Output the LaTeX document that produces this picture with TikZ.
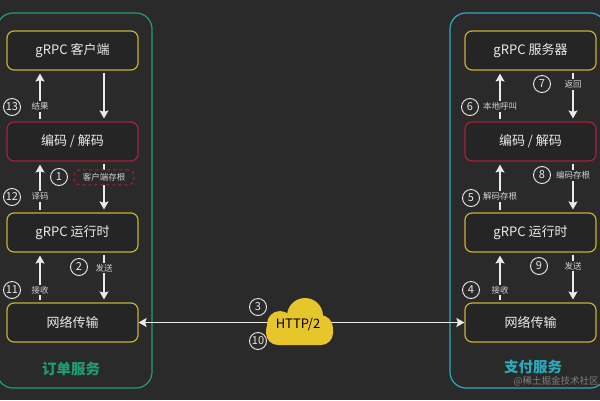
\documentclass[tikz,border=0pt]{standalone}
\usepackage{fontspec}
\setmainfont{Noto Sans CJK SC}
\usepackage{tikz}
\usetikzlibrary{arrows,arrows.meta}
\definecolor{bgdark}{HTML}{2A2A2A}
\definecolor{boxfill}{HTML}{252525}
\definecolor{boxyellow}{HTML}{C9B02E}
\definecolor{codecred}{HTML}{A8213B}
\definecolor{leftgreen}{HTML}{1F9E74}
\definecolor{rightcyan}{HTML}{2AAABD}
\definecolor{cloudyellow}{HTML}{E6C62A}
\definecolor{textwhite}{HTML}{EAEAEA}
\definecolor{labelgray}{HTML}{D2D2D2}
\tikzset{
  box/.style = {draw=boxyellow, fill=boxfill, rounded corners=7pt,
    line width=1.2pt, minimum width=131pt, minimum height=39pt, inner sep=0pt,
    text=textwhite, font=\fontsize{13}{15}\selectfont},
  codec/.style = {box, draw=codecred},% boite rouge
  num/.style = {circle, draw=textwhite, line width=0.9pt, minimum size=17pt,
    inner sep=0pt, text=textwhite, font=\fontsize{11}{12}\selectfont},
  lbl/.style = {fill=bgdark, inner sep=1.5pt, text=labelgray,
    font=\fontsize{8.5}{10}\selectfont},
  stub/.style = {lbl, draw=codecred, dashed, rounded corners=6pt,
    line width=1pt, minimum width=60pt, minimum height=15pt},
  flow/.style = {->, draw=textwhite, line width=1.3pt, shorten >=3pt,
    shorten <=2pt}
}
\begin{document}
\begin{tikzpicture}[x=1pt,y=-1pt,>={Stealth[length=8pt,width=9pt,inset=1.5pt]}]
\fill[bgdark] (0,0) rectangle (600,400);
\useasboundingbox (0,0) rectangle (600,400);
% les deux services
\draw[leftgreen, line width=1.2pt, rounded corners=16pt] (-3,13) rectangle (152,388);
\draw[rightcyan, line width=1.2pt, rounded corners=16pt] (450,13) rectangle (606,388);
\node[font=\bfseries\fontsize{14.5}{16}\selectfont, text=leftgreen] (ltitle) at (71,369) {订单服务};
\node[font=\bfseries\fontsize{14.5}{16}\selectfont, text=rightcyan] (rtitle) at (533,367) {支付服务};
\node[anchor=west, text=gray, font=\fontsize{9.5}{11}\selectfont] (mark) at (510,381) {@稀土掘金技术社区};

\node [box] (lclient) at (72.5,50.5) {gRPC 客户端};
\node [codec] (lcodec) at (72.5,141.5) {编码 / 解码};
\node [box] (lrun) at (72.5,232.5) {gRPC 运行时};
\node [box] (lnet) at (72.5,322.5) {网络传输};

\node [box] (rserver) at (530.5,50.5) {gRPC 服务器};
\node [codec] (rcodec) at (530.5,141.5) {编码 / 解码};
\node [box] (rrun) at (530.5,232.5) {gRPC 运行时};
\node [box] (rnet) at (530.5,322.5) {网络传输};

\coordinate (lup) at (40,0);
\coordinate (ldown) at (104,0);
\coordinate (rup) at (500,0);
\coordinate (rdown) at (573,0);

% client
\draw[flow] (lclient.south -| ldown) -- (lcodec.north -| ldown);
\draw[flow] (lcodec.south -| ldown) -- node[stub, pos=0.31] (lstub) {客户端存根} (lrun.north -| ldown);
\draw[flow] (lrun.south -| ldown) -- node[lbl, pos=0.31] (lsend) {发送} (lnet.north -| ldown);
\draw[flow] (lnet.north -| lup) -- node[lbl, pos=0.25] (lrecv) {接收} (lrun.south -| lup);
\draw[flow] (lrun.north -| lup) -- node[lbl, pos=0.31] (ldec) {译码} (lcodec.south -| lup);
\draw[flow] (lcodec.north -| lup) -- node[lbl, pos=0.29] (lres) {结果} (lclient.south -| lup);

% serveur
\draw[flow] (rnet.north -| rup) -- node[lbl, pos=0.25] (rrecv) {接收} (rrun.south -| rup);
\draw[flow] (rrun.north -| rup) -- node[lbl, pos=0.31] (rdec) {解码存根} (rcodec.south -| rup);
\draw[flow] (rcodec.north -| rup) -- node[lbl, pos=0.29] (rcall) {本地呼叫} (rserver.south -| rup);
\draw[flow] (rserver.south -| rdown) -- node[lbl, pos=0.27] (rret) {返回} (rcodec.north -| rdown);
\draw[flow] (rcodec.south -| rdown) -- node[lbl, pos=0.27] (renc) {编码存根} (rrun.north -| rdown);
\draw[flow] (rrun.south -| rdown) -- node[lbl, pos=0.27] (rsend) {发送} (rnet.north -| rdown);

% reseau
\draw[<->, draw=textwhite, line width=1.8pt] (lnet.east) -- (rnet.west);
\coordinate (cloudc) at (300,322);
\begin{scope}[shift={(cloudc)}]
  \fill[cloudyellow, rounded corners=12pt] (-34,-4) rectangle (33,23);
  \fill[cloudyellow] (5,-6) circle (18);
  \fill[cloudyellow] (-20,2) circle (13);
  \fill[cloudyellow] (20,6) circle (13);
\end{scope}
\node[text=black, font=\fontsize{13}{14}\selectfont] (http) at (298,324) {HTTP/2};

\node[num] (n1) at (59,177) {1};
\node[num] (n2) at (79,267) {2};
\node[num] (n3) at (258,307) {3};
\node[num] (n4) at (471,290) {4};
\node[num] (n5) at (471,198) {5};
\node[num] (n6) at (470,107) {6};
\node[num] (n7) at (542,84) {7};
\node[num] (n8) at (542,175) {8};
\node[num] (n9) at (539,266) {9};
\node[num] (n10) at (258,341) {10};
\node[num] (n11) at (12,290) {11};
\node[num] (n12) at (12,197) {12};
\node[num] (n13) at (12,107) {13};
\end{tikzpicture}
\end{document}
